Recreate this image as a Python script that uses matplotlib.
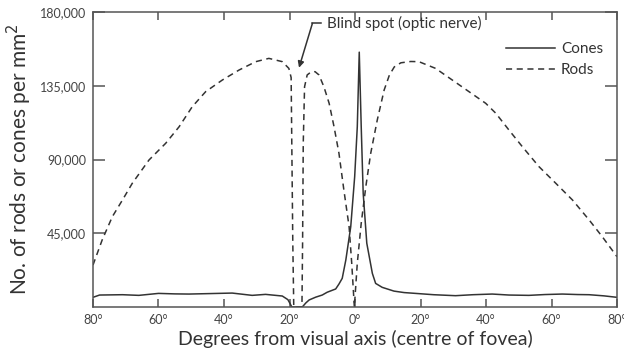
import numpy as np
import matplotlib
matplotlib.use("Agg")
import matplotlib.pyplot as plt

plt.rcParams['font.family'] = ['Lato', 'DejaVu Sans']

# eccentricity in degrees (negative = nasal side, left of the fovea)
rod_deg = [-80, -77.2, -74.1, -71.0, -68.0, -62.9, -57.8, -53.7, -49.7, -45.6,
           -40.5, -35.4, -30.3, -26.3, -22.2, -20.2, -19.5, -19.3, -19.0, -18.7,
           -16.2, -16.0, -15.8, -15.4, -14.6, -13.5, -12.2, -11.0, -9.5, -7.9,
           -6.4, -4.9, -3.4, -1.8, -1.0, -0.2, 0.7, 1.9, 3.3, 4.8,
           6.8, 8.9, 10.5, 12.0, 14.0, 17.0, 19.5, 24.6, 29.7, 34.8,
           39.9, 43.0, 47.0, 51.1, 56.2, 61.3, 66.4, 71.5, 75.5, 80]
rod_density = [25600, 40900, 55100, 65300, 75500, 89700, 99900, 110000, 122200, 131400,
               138500, 144600, 149700, 151700, 149700, 145600, 140000, 100000, 40000, 0,
               0, 40000, 100000, 134400, 141600, 143300, 143600, 141600, 134400, 124300,
               110000, 93800, 71400, 49000, 26700, 0, 26700, 51100, 73400, 93800,
               114100, 132400, 141500, 146500, 149000, 149800, 149700, 145600, 138500, 131400,
               124300, 118200, 108000, 97800, 85600, 75500, 65300, 53100, 42900, 30700]

cone_deg = [-80, -78, -71, -66, -60, -55, -50.7, -44, -37.5, -31.4,
            -27.3, -22.2, -20.5, -19.8, -19.3, -16.1, -15, -14, -12, -10,
            -8.5, -5.9, -4.9, -3.9, -2.8, -1.3, -0.1, 0.7, 1.3, 1.9,
            2.5, 3.6, 5.3, 6.3, 8.3, 11.9, 15, 18.5, 24, 30.7,
            36, 41.9, 47, 53.1, 58, 63.3, 68, 71.5, 76, 80]
cone_density = [5900, 7300, 7500, 7100, 8300, 8000, 7900, 8200, 8500, 7100,
                7700, 6700, 4500, 2000, 0, 0, 2500, 4300, 6000, 7300,
                9000, 11000, 14000, 17500, 28700, 49000, 79500, 110000, 155500, 110000,
                69400, 38900, 20500, 14400, 12000, 9700, 8800, 8300, 7500, 6900,
                7500, 7900, 7300, 7100, 7600, 7900, 7600, 7500, 6800, 5900]

x_ticks = [-80, -60, -40, -20, 0, 20, 40, 60, 80]
y_ticks = [45000, 90000, 135000, 180000]

ink = '#333333'
fig = plt.figure(figsize=(6.24, 3.56), dpi=100)
ax = fig.add_axes([93/624, 49/356, 524/624, 295/356])

ax.plot(cone_deg, cone_density, color=ink, lw=1.1, label='Cones')
ax.plot(rod_deg, rod_density, color=ink, lw=1.1, dashes=(4, 3), label='Rods')

ax.set_xlim(-80, 80)
ax.set_ylim(0, 180000)
ax.set_xticks(x_ticks)
ax.set_xticklabels([f'{abs(v)}°' for v in x_ticks])
ax.set_yticks(y_ticks)
ax.set_yticklabels([f'{v:,}' for v in y_ticks])

for s in ax.spines.values():
    s.set_color('#555555')
    s.set_linewidth(1.1)
ax.tick_params(axis='both', direction='in', top=True, right=True,
               colors='#555555', labelcolor='#444444', labelsize=9, width=1.1)
ax.tick_params(axis='x', length=6, pad=5)
ax.tick_params(axis='y', length=8.5, pad=5)

ax.set_xlabel('Degrees from visual axis (centre of fovea)', fontsize=14, color=ink, labelpad=3)
ax.set_ylabel('No. of rods or cones per mm$^2$', fontsize=15, color=ink, labelpad=4)

# blind spot callout: short leader line then arrow down to the gap
ax.plot([-10.5, -13.0], [173100, 173100], color=ink, lw=1.1)
ax.annotate('', xy=(-17.1, 146000), xytext=(-13.0, 173100),
            arrowprops=dict(arrowstyle='-|>', color=ink, lw=1.1,
                            mutation_scale=9, shrinkA=0, shrinkB=0))
ax.text(-8.6, 173100, 'Blind spot (optic nerve)', fontsize=11, color=ink,
        va='center', ha='left')

ax.legend(loc='upper right', bbox_to_anchor=(1.0, 0.945), frameon=False,
          fontsize=11, handlelength=3.2, handletextpad=0.4, labelspacing=0.45,
          labelcolor=ink)

fig.savefig('out.png', dpi=100)
